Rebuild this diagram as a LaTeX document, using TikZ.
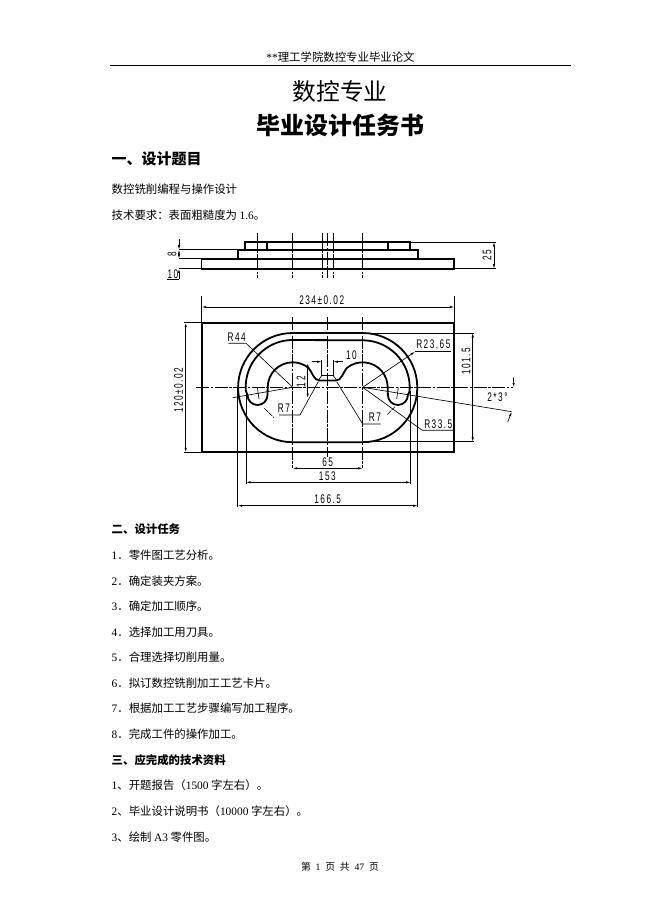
\documentclass[tikz,border=0pt]{standalone}
\usepackage{fontspec}
\usetikzlibrary{arrows.meta}
\setmainfont{Liberation Serif}
\newfontfamily\cjk{Noto Sans CJK SC}
\newfontfamily\dimf[FakeStretch=0.66,LetterSpace=12]{Liberation Sans}
\tikzset{
  x=1pt,y=1pt,
  body/.style={anchor=west,inner sep=0pt,font=\fontsize{11.4}{13}\selectfont\cjk},
  head/.style={anchor=west,inner sep=0pt,font=\fontsize{11.4}{13}\selectfont\bfseries\cjk},
  ctr/.style={anchor=center,inner sep=0pt},
  thick line/.style={line width=1.8pt,black},
  thin line/.style={line width=.65pt,black},
  centre line/.style={line width=.65pt,dash pattern=on 13pt off 1.5pt on 2.5pt off 1.5pt},
  dim/.style={line width=.65pt,{Latex[length=4.5pt,width=2.3pt]}-{Latex[length=4.5pt,width=2.3pt]}},
  tipend/.style={line width=.65pt,-{Latex[length=4.5pt,width=2.3pt]}},
  dimtext/.style={inner sep=0pt,font=\fontsize{12.5}{13}\selectfont\dimf}
}
\begin{document}
\begin{tikzpicture}
\useasboundingbox (0,0) rectangle (650,-920);
\fill[white] (0,0) rectangle (650,-920);
% page text
\node[ctr,font=\fontsize{11.4}{13}\selectfont] (hdr) at (340.5,-57) {{\rmfamily **}\cjk 理工学院数控专业毕业论文};
\coordinate (ruleL) at (110,-65.5);
\coordinate (ruleR) at (571,-65.5);
\draw[line width=.8pt] (ruleL) -- (ruleR);
\node[ctr,font=\fontsize{23.7}{26}\selectfont\cjk] (t1) at (340,-91.5) {数控专业};
\node[ctr,font=\fontsize{23.9}{26}\selectfont\bfseries\cjk] (t2) at (340.3,-125) {毕业设计任务书};
\node[anchor=west,inner sep=0pt,font=\fontsize{15}{17}\selectfont\bfseries\cjk] (s1) at (111.5,-159) {一、设计题目};
\node[body] (l1) at (111.5,-189) {数控铣削编程与操作设计};
\node[body] (l2) at (111.5,-215) {技术要求：表面粗糙度为 {\rmfamily 1.6}。};
\node[head] (s2) at (111.5,-529.5) {二、设计任务};
\node[body] (a1) at (111.5,-555.5) {{\rmfamily 1}．零件图工艺分析。};
\node[body] (a2) at (111.5,-581) {{\rmfamily 2}．确定装夹方案。};
\node[body] (a3) at (111.5,-606.5) {{\rmfamily 3}．确定加工顺序。};
\node[body] (a4) at (111.5,-632) {{\rmfamily 4}．选择加工用刀具。};
\node[body] (a5) at (111.5,-657.5) {{\rmfamily 5}．合理选择切削用量。};
\node[body] (a6) at (111.5,-683) {{\rmfamily 6}．拟订数控铣削加工工艺卡片。};
\node[body] (a7) at (111.5,-708.5) {{\rmfamily 7}．根据加工工艺步骤编写加工程序。};
\node[body] (a8) at (111.5,-734.5) {{\rmfamily 8}．完成工件的操作加工。};
\node[head] (s3) at (111.5,-760) {三、应完成的技术资料};
\node[body] (b1) at (111.5,-785.5) {{\rmfamily 1}、开题报告（{\rmfamily 1500} 字左右）。};
\node[body] (b2) at (111.5,-811) {{\rmfamily 2}、毕业设计说明书（{\rmfamily 10000} 字左右）。};
\node[body] (b3) at (111.5,-837) {{\rmfamily 3}、绘制 {\rmfamily A3} 零件图。};
\node[ctr,font=\fontsize{9.8}{11}\selectfont\cjk] (foot) at (340,-866.5) {第\hspace{4.8pt}{\rmfamily 1}\hspace{4.8pt}页\hspace{4.8pt}共\hspace{4.8pt}{\rmfamily 47}\hspace{4.8pt}页};
% side view
\draw[thick line] (201.5,-258.7) rectangle (454,-268.7);
\draw[thick line] (237.7,-258.7) |- (417.7,-250) -- (417.7,-258.7);
\draw[thick line] (245.3,-250) |- (410.3,-242) -- (410.3,-250);
\draw[thick line] (267.3,-242) -- (267.3,-250);
\draw[thick line] (387.7,-242) -- (387.7,-250);
\foreach \xx in {257.3,292.3,322.3,333.3,362.3}
  \draw[thin line,dash pattern=on 16pt off 1.5pt on 2pt off 1.5pt] (\xx,-233) -- (\xx,-277.5);
\draw[centre line] (327.7,-233) -- (327.7,-277.5);
% side view dimensions
\draw[thin line] (179,-249.7) -- (237.7,-249.7);
\draw[thin line] (179,-258.7) -- (201.5,-258.7);
\draw[thin line] (179,-268.7) -- (201.5,-268.7);
\draw[tipend] (179,-239) -- (179,-249.7);
\draw[dim] (179,-249.7) -- (179,-258.7);
\draw[tipend] (179,-278.5) -- (179,-268.7);
\draw[thin line] (167,-279.2) -- (179,-279.2);
\node[dimtext,rotate=90] (d8) at (172,-254) {8};
\node[dimtext] (d10a) at (173,-274.5) {10};
\draw[thin line] (410.3,-242) -- (495.5,-242);
\draw[thin line] (454,-268.7) -- (495.5,-268.7);
\draw[dim] (494,-242) -- (494,-268.7);
\node[dimtext,rotate=90] (d25) at (487,-255) {25};
% plan view
\draw[thick line] (201.7,-322.7) rectangle (454.3,-452.3);
\draw[thick line] (292.7,-333) -- (362.7,-333) arc[start angle=90,end angle=-90,radius=54.6] -- (292.7,-442.2) arc[start angle=270,end angle=90,radius=54.6] -- cycle;
\draw[thick line,line join=round] (292.7,-340)
  arc[start angle=90,end angle=185,radius=47]
  -- (247.5,-395) arc[start angle=180,end angle=360,radius=10]
  -- (267.7,-387.3) arc[start angle=180,end angle=50,radius=25]
  .. controls (312.5,-373) and (314,-380.5) .. (319.5,-380.5)
  -- (335.9,-380.5)
  .. controls (341.4,-380.5) and (342.9,-373) .. (346.6,-368.15)
  arc[start angle=130,end angle=0,radius=25]
  -- (387.9,-395) arc[start angle=180,end angle=360,radius=10]
  -- (409.5,-391.4) arc[start angle=-5,end angle=90,radius=47] -- cycle;
% centre lines
\draw[centre line] (196,-387.3) -- (513,-387.3);
\draw[centre line] (327.7,-317) -- (327.7,-457);
\draw[centre line] (292.7,-317) -- (292.7,-468.3);
\draw[centre line] (362.7,-317) -- (362.7,-468.3);
% plan dimensions
\draw[thin line] (201.7,-296) -- (201.7,-322.7);
\draw[thin line] (454.3,-296) -- (454.3,-322.7);
\draw[dim] (201.7,-307) -- (454.3,-307);
\node[dimtext] (d234) at (321.7,-300.5) {234±0.02};
\draw[thin line] (184,-322.7) -- (201.7,-322.7);
\draw[thin line] (184,-452.3) -- (201.7,-452.3);
\draw[dim] (185.7,-322.7) -- (185.7,-452.3);
\node[dimtext,rotate=90] (d120) at (178.5,-390) {120±0.02};
\draw[thin line] (362.7,-333) -- (474,-333);
\draw[thin line] (362.7,-441.8) -- (474,-441.8);
\draw[dim] (472.7,-333) -- (472.7,-441.8);
\node[dimtext,rotate=90] (d1015) at (466,-361.5) {101.5};
\draw[dim] (292.7,-468.3) -- (362.7,-468.3);
\node[dimtext] (d65) at (327.7,-462) {65};
\draw[thin line] (246,-391) -- (246,-483.5);
\draw[thin line] (410.7,-391) -- (410.7,-483.5);
\draw[dim] (246,-482.3) -- (410.7,-482.3);
\node[dimtext] (d153) at (327.3,-475.7) {153};
\draw[thin line] (237.7,-388) -- (237.7,-507);
\draw[thin line] (417.7,-388) -- (417.7,-507);
\draw[dim] (237.7,-505.7) -- (417.7,-505.7);
\node[dimtext] (d1665) at (327.7,-499.5) {166.5};
% neck dims
\draw[thin line] (321.7,-360) -- (321.7,-375.7);
\draw[thin line] (333.3,-360) -- (333.3,-375.7);
\draw[thin line] (321.7,-375.7) -- (333.3,-375.7);
\draw[thin line] (318.5,-380) -- (321.7,-375.7);
\draw[thin line] (336.5,-380) -- (333.3,-375.7);
\draw[tipend] (311.7,-361.7) -- (321.7,-361.7);
\draw[tipend] (343,-361.7) -- (333.3,-361.7);
\node[dimtext] (d10b) at (351.5,-355.5) {10};
\draw[dim] (307.7,-363) -- (307.7,-398);
\node[dimtext,rotate=90] (d12) at (301,-381.7) {12};
% leaders
\draw[thin line] (228.3,-343.3) -- (246,-343.3) -- (292.7,-387.3);
\node[dimtext] (r44) at (236.7,-337.5) {R44};
\draw[thin line] (318.3,-381.7) -- (300,-415) -- (279,-415);
\node[dimtext] (r7a) at (284,-408.5) {R7};
\draw[thin line] (336.7,-381.7) -- (362.7,-424) -- (380.7,-424);
\node[dimtext] (r7b) at (375,-417.5) {R7};
\draw[thin line] (450.7,-351.7) -- (415,-351.7);
\draw[tipend] (362.7,-387.3) -- (415,-351.7);
\node[dimtext] (r2365) at (433.3,-344.5) {R23,65};
\draw[thin line] (453.3,-430.3) -- (422.3,-430.3) -- (362.7,-387.3);
\node[dimtext] (r335) at (438.3,-424.5) {R33.5};
% hook lines
\draw[thin line] (292.7,-387.3) -- (232.7,-397.7);
\draw[thin line] (257.3,-387.3) -- (259,-399);
\draw[thin line,dash pattern=on 5pt off 1pt] (264.3,-408.3) -- (274,-417.7);
\draw[thin line] (398.3,-387.3) -- (396.7,-399);
\draw[thin line,dash pattern=on 5pt off 1pt] (395,-406.7) -- (386.7,-415);
% angle
\draw[thin line] (362.7,-387.3) -- (511.7,-411.7);
\draw[tipend] (513.4,-377.5) -- (513.8,-387.3);
\draw[tipend] (507.7,-422) -- (511.7,-411.7);
\node[dimtext] (ang) at (497.5,-397.5) {2*3°};
\end{tikzpicture}
\end{document}
